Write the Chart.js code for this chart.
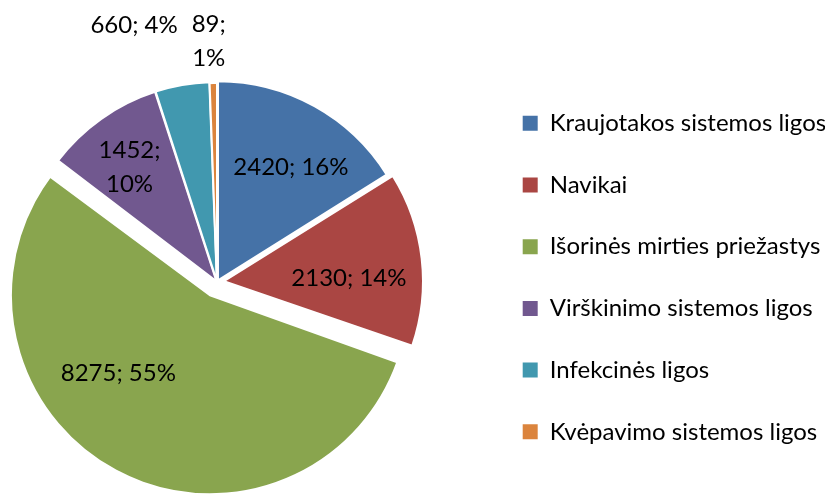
<!DOCTYPE html>
<html>
<head>
<meta charset="utf-8">
<script src="https://cdn.jsdelivr.net/npm/chart.js@4.4.1/dist/chart.umd.min.js"></script>
<style>
  html, body { margin: 0; padding: 0; background: #fff; overflow: hidden; width: 825px; height: 494px; }
  #page { width: 825px; height: 494px; position: relative; overflow: hidden; }
  #wrap { position: absolute; top: 0; height: 494px; }
</style>
</head>
<body>
<div id="page"><div id="wrap"><canvas id="c"></canvas></div></div>
<script>
// ---- data ----
const categories = [
  'Kraujotakos sistemos ligos',
  'Navikai',
  'Išorinės mirties priežastys',
  'Virškinimo sistemos ligos',
  'Infekcinės ligos',
  'Kvėpavimo sistemos ligos'
];
const deaths = [2420, 2130, 8275, 1452, 660, 89];

// ---- style ----
const colors = ['#4572A7', '#AA4643', '#89A54E', '#71588F', '#4198AF', '#DB843D'];
const explodePx = [2, 7, 15, 1, 1, 0];            // slice explosion in px
const labelPlace = [                               // data label placement (radius fraction, angle shift deg)
  { r: 0.677, da: 3.8,  wrap: false },
  { r: 0.628, da: 5,    wrap: false },
  { r: 0.605, da: 21.4, wrap: false },
  { r: 0.72,  da: -2,   wrap: true },
  { r: 1.35,  da: -7.9, wrap: false },
  { r: 1.21,  da: -0.9, wrap: true }
];
const FONT = 'Lato';
const FS = 24;          // data label font size
const FSL = 24;         // legend font size
const LINE_H = 34;
const RADIUS = 199;
const LEG_PAD = 37.7;
const BOX = 15;
const PIE_CX = 217;     // pie centre on the page
const PIE_TOP = 70;     // chart area top
const LEG_X = 523;      // legend box x on the page
const LEG_FIRST_Y = 123.3;

// layout helpers
const mctx = document.createElement('canvas').getContext('2d');
mctx.font = FSL + 'px ' + FONT;
const maxText = Math.max(...categories.map(s => mctx.measureText(s).width));
const OFF = Math.round(LEG_X - LEG_PAD - 2 * PIE_CX);       // canvas extends this far left of the page
const legendLeft = 2 * (PIE_CX + OFF);
const legendWidth = LEG_PAD + BOX + FSL / 2 + maxText + 10;
const canvasW = Math.ceil(legendLeft + legendWidth);
const padRight = canvasW - legendLeft - legendWidth;
const legTitleH = LEG_FIRST_Y - PIE_TOP - LEG_PAD - FSL / 2;
const wrap = document.getElementById('wrap');
wrap.style.left = (-OFF) + 'px';
wrap.style.width = canvasW + 'px';

const pieFix = {
  id: 'pieFix',
  beforeDatasetDraw(chart, args) {
    const meta = args.meta;
    const R = meta.controller.outerRadius;
    meta.data.forEach(arc => {
      const o = (arc.options.offset || 0) / 4;
      const circ = arc.endAngle - arc.startAngle;
      const fix = 1 - Math.sin(Math.min(Math.PI, circ));
      arc.outerRadius = R - o * fix;
    });
  }
};

const pieLabels = {
  id: 'pieLabels',
  afterDatasetsDraw(chart) {
    const meta = chart.getDatasetMeta(0);
    const vals = chart.data.datasets[0].data;
    const total = vals.reduce((a, b) => a + b, 0);
    const R = meta.controller.outerRadius;
    const ctx = chart.ctx;
    ctx.save();
    ctx.font = FS + 'px ' + FONT;
    ctx.fillStyle = '#000';
    ctx.textAlign = 'center';
    ctx.textBaseline = 'middle';
    meta.data.forEach((arc, i) => {
      const mid = (arc.startAngle + arc.endAngle) / 2;
      const t = (arc.options.offset || 0) / 4;
      const cx = arc.x + Math.cos(mid) * t;
      const cy = arc.y + Math.sin(mid) * t;
      const p = labelPlace[i];
      const a = mid + p.da * Math.PI / 180;
      const lx = cx + Math.cos(a) * p.r * R;
      const ly = cy + Math.sin(a) * p.r * R;
      const pct = Math.round(vals[i] / total * 100);
      const lines = p.wrap ? [vals[i] + ';', pct + '%'] : [vals[i] + '; ' + pct + '%'];
      lines.forEach((s, k) => ctx.fillText(s, lx, ly + (k - (lines.length - 1) / 2) * LINE_H));
    });
    ctx.restore();
  }
};

new Chart(document.getElementById('c'), {
  type: 'pie',
  data: {
    labels: categories,
    datasets: [{
      data: deaths,
      backgroundColor: colors,
      borderColor: '#fff',
      borderWidth: 2,
      offset: explodePx.map(v => v * 4),
      radius: RADIUS
    }]
  },
  options: {
    responsive: true,
    maintainAspectRatio: false,
    animation: false,
    layout: { padding: { top: PIE_TOP, bottom: 0, left: 0, right: padRight } },
    plugins: {
      tooltip: { enabled: false },
      legend: {
        position: 'right',
        align: 'start',
        title: { display: true, text: ' ', font: { size: 1, lineHeight: 1 }, padding: { top: legTitleH - 1, bottom: 0 } },
        labels: {
          color: '#000',
          font: { family: FONT, size: FSL },
          boxWidth: BOX,
          boxHeight: BOX,
          padding: LEG_PAD,
          generateLabels(chart) {
            const items = Chart.overrides.doughnut.plugins.legend.labels.generateLabels(chart);
            items.forEach(it => { it.lineWidth = 0; });
            return items;
          }
        }
      }
    }
  },
  plugins: [pieFix, pieLabels]
});
</script>
</body>
</html>
